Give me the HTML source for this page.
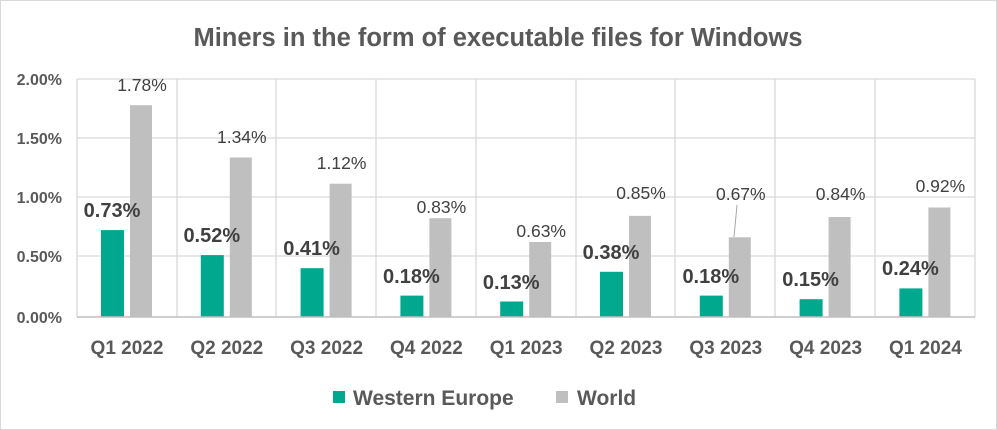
<!DOCTYPE html><html><head><style>body{margin:0;background:#fff}svg{display:block;font-family:"Liberation Sans",sans-serif}</style></head><body>
<svg width="997" height="430" xmlns="http://www.w3.org/2000/svg">
<rect x="0.5" y="0.5" width="996" height="429" fill="#fff" stroke="#d9d9d9"/>
<text x="498" y="46" text-anchor="middle" font-size="25.5" font-weight="bold" fill="#595959">Miners in the form of executable files for Windows</text>
<g stroke="#d9d9d9" stroke-width="1.3">
<line x1="77" y1="79" x2="975" y2="79"/><line x1="77" y1="138" x2="975" y2="138"/><line x1="77" y1="197" x2="975" y2="197"/><line x1="77" y1="256" x2="975" y2="256"/>
<line x1="77" y1="79" x2="77" y2="317"/><line x1="177" y1="79" x2="177" y2="317"/><line x1="276" y1="79" x2="276" y2="317"/><line x1="376" y1="79" x2="376" y2="317"/><line x1="476" y1="79" x2="476" y2="317"/><line x1="576" y1="79" x2="576" y2="317"/><line x1="675" y1="79" x2="675" y2="317"/><line x1="775" y1="79" x2="775" y2="317"/><line x1="875" y1="79" x2="875" y2="317"/><line x1="975" y1="79" x2="975" y2="317"/>
</g>
<g font-size="16" font-weight="bold" fill="#595959" text-anchor="end">
<text x="62" y="85">2.00%</text><text x="62" y="144">1.50%</text><text x="62" y="203">1.00%</text><text x="62" y="262">0.50%</text><text x="62" y="323">0.00%</text></g>
<g fill="#00a88e">
<rect x="101" y="230.1" width="23" height="86.9"/><rect x="200.8" y="255.1" width="23" height="61.9"/><rect x="300.6" y="268.2" width="23" height="48.8"/><rect x="400.4" y="295.6" width="23" height="21.4"/><rect x="500.2" y="301.5" width="23" height="15.5"/><rect x="600" y="271.8" width="23" height="45.2"/><rect x="699.8" y="295.6" width="23" height="21.4"/><rect x="799.6" y="299.2" width="23" height="17.8"/><rect x="899.4" y="288.4" width="23" height="28.6"/>
</g>
<g fill="#bfbfbf">
<rect x="130" y="105.2" width="22" height="211.8"/><rect x="229.8" y="157.5" width="22" height="159.5"/><rect x="329.6" y="183.7" width="22" height="133.3"/><rect x="429.4" y="218.2" width="22" height="98.8"/><rect x="529.2" y="242" width="22" height="75"/><rect x="629" y="215.9" width="22" height="101.1"/><rect x="728.8" y="237.3" width="22" height="79.7"/><rect x="828.6" y="217" width="22" height="100"/><rect x="928.4" y="207.5" width="22" height="109.5"/>
</g>
<line x1="77" y1="317" x2="975" y2="317" stroke="#bfbfbf" stroke-width="1.5"/>
<line x1="737" y1="205" x2="734" y2="237" stroke="#a6a6a6"/>
<g font-size="20" font-weight="bold" fill="#404040" text-anchor="middle">
<text x="112" y="217">0.73%</text><text x="211.8" y="242">0.52%</text><text x="311.6" y="255">0.41%</text><text x="411.4" y="283">0.18%</text><text x="511.2" y="289">0.13%</text><text x="611" y="259">0.38%</text><text x="710.8" y="283">0.18%</text><text x="810.6" y="286">0.15%</text><text x="910.4" y="275">0.24%</text>
</g>
<g font-size="17.5" fill="#404040" text-anchor="middle">
<text x="142" y="91">1.78%</text><text x="241.8" y="143">1.34%</text><text x="341.6" y="169">1.12%</text><text x="441.4" y="213">0.83%</text><text x="541.2" y="237">0.63%</text><text x="641" y="199">0.85%</text><text x="740.8" y="200">0.67%</text><text x="840.6" y="200">0.84%</text><text x="940.4" y="192">0.92%</text>
</g>
<g font-size="19" font-weight="bold" fill="#595959" text-anchor="middle">
<text x="127" y="354">Q1 2022</text><text x="226.8" y="354">Q2 2022</text><text x="326.6" y="354">Q3 2022</text><text x="426.4" y="354">Q4 2022</text><text x="526.2" y="354">Q1 2023</text><text x="626" y="354">Q2 2023</text><text x="725.8" y="354">Q3 2023</text><text x="825.6" y="354">Q4 2023</text><text x="925.4" y="354">Q1 2024</text>
</g>
<rect x="333" y="391" width="12" height="12" fill="#00a88e"/>
<text x="353" y="405" font-size="21" font-weight="bold" fill="#595959">Western Europe</text>
<rect x="556" y="391" width="12" height="12" fill="#bfbfbf"/>
<text x="577" y="405" font-size="21" font-weight="bold" fill="#595959">World</text>
</svg></body></html>
